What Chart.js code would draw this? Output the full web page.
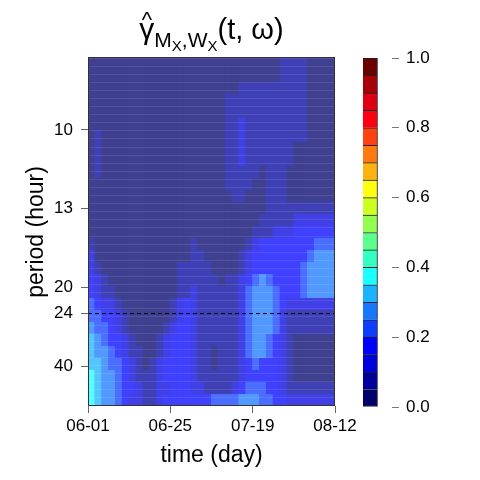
<!DOCTYPE html>
<html>
<head>
<meta charset="utf-8">
<script src="https://cdn.jsdelivr.net/npm/chart.js@4.4.1/dist/chart.umd.min.js"></script>
<style>
  body { margin: 0; background: #fff; }
  #wrap { position: relative; width: 480px; height: 480px; }
  #wrap canvas { position: absolute; left: 0; top: 0; }
</style>
</head>
<body>
<div id="wrap">
  <canvas id="chart" width="480" height="480"></canvas>
  <canvas id="scalebar" width="480" height="480"></canvas>
</div>
<script>
// time axis (days since 06-01)
const dayTicks = [0, 24, 48, 72];
const dayLabels = ["06-01", "06-25", "07-19", "08-12"];

// period axis in hours, drawn on a frequency (1/period) scale
const periodTicks = [10, 13.33, 20, 24, 40];
const periodLabels = ["10", "13", "20", "24", "40"];
const periodTop = 8.14;
const periodBottom = 81.3;
const refPeriod = 24;

// coherence class per cell: digit k means 0.05k .. 0.05(k+1)
// rows run from short period (top) to long period (bottom), 2-day columns
const coherenceRows = [
  "000000000000000000000000000011110000",
  "000000000000000000000000000011110000",
  "000000000000000000000011111111110000",
  "000000000000000000001111111111110000",
  "000000000000000000001111111111110000",
  "000000000000000000001121111111110000",
  "010000000000000000001121111111110000",
  "010000000000000000001121111111000000",
  "010000000000000000001121111111000000",
  "010000000000000000001111101110000000",
  "000000000000000000001111001110000000",
  "000000000000000000000110001110000000",
  "000000000000000000000000001111111111",
  "000000000000000000000000011111222222",
  "000000000000000000000000111222333333",
  "100000000000000100000001233333333444",
  "200000000000000110000012333333334555",
  "210000000000011111000012333333345555",
  "321000000000011111101123454333345555",
  "321100000000011211111124555433345555",
  "432210000000123211111124555432222222",
  "443321000000123211111124555421111111",
  "544321000001233211111124555421111111",
  "654332100012333211111124554321000000",
  "655432110012333211011124554321000000",
  "665443210123333211011123433321000000",
  "765543211123333211111123333321000000",
  "765543321122333221111234443321111111",
  "765543221123333333444455544332222222",
];

// colour key
const levelBreaks = [0, 0.05, 0.1, 0.15, 0.2, 0.25, 0.3, 0.35, 0.4, 0.45, 0.5,
  0.55, 0.6, 0.65, 0.7, 0.75, 0.8, 0.85, 0.9, 0.95, 1.0];
const levelColors = ["#00006b", "#00009e", "#0000dd", "#0000ff", "#0d3dff",
  "#1877ff", "#19b3ff", "#1affff", "#33ffc2", "#5cff8a", "#90ff50", "#ccff22",
  "#ffff10", "#ffb310", "#ff7a10", "#ff4010", "#ff0010", "#dd0010", "#a80008",
  "#6b0000"];

const FONT = '"Liberation Sans", Arial, Helvetica, sans-serif';
Chart.defaults.font.family = FONT;
Chart.defaults.color = "#000";

// the map is shown under a light wash
function washed(hex, a) {
  const n = parseInt(hex.slice(1), 16);
  const mix = (v) => Math.round(v + (255 - v) * a);
  return `rgb(${mix((n >> 16) & 255)},${mix((n >> 8) & 255)},${mix(n & 255)})`;
}

const fTop = 1 / periodTop;
const fBottom = 1 / periodBottom;
const rowStep = (fTop - fBottom) / coherenceRows.length;
const colStep = (dayTicks[dayTicks.length - 1] - dayTicks[0]) / coherenceRows[0].length;

const heatSets = coherenceRows.map((row, r) => {
  const hi = fTop - r * rowStep;
  const lo = hi - rowStep;
  const cells = row.split("").map(Number);
  return {
    type: "bar",
    data: cells.map((k, c) => ({ x: dayTicks[0] + (c + 0.5) * colStep, y: [lo, hi + rowStep * 0.1] })),
    backgroundColor: cells.map((k) => washed(levelColors[k], 0.25)),
    borderWidth: 0,
    grouped: false,
    barPercentage: 1.15,
    categoryPercentage: 1,
    order: 2,
  };
});

const refLine = {
  type: "line",
  data: [
    { x: dayTicks[0], y: 1 / refPeriod },
    { x: dayTicks[dayTicks.length - 1], y: 1 / refPeriod },
  ],
  borderColor: "#000",
  borderWidth: 1,
  borderDash: [4, 3],
  pointRadius: 0,
  order: 0,
};

// title, axis titles and frame
const textPlugin = {
  id: "texts",
  afterDraw(chart) {
    const { ctx, chartArea: a } = chart;
    ctx.save();
    ctx.strokeStyle = "#333";
    ctx.lineWidth = 1;
    ctx.strokeRect(Math.round(a.left) + 0.5, Math.round(a.top) - 0.5,
      Math.round(a.right - a.left) - 1, Math.round(a.bottom - a.top));

    ctx.fillStyle = "#000";
    ctx.textBaseline = "alphabetic";
    const cx = (a.left + a.right) / 2;

    ctx.font = `23px ${FONT}`;
    ctx.textAlign = "center";
    ctx.fillText("time (day)", cx, 462);

    ctx.save();
    ctx.translate(43, (a.top + a.bottom) / 2);
    ctx.rotate(-Math.PI / 2);
    ctx.fillText("period (hour)", 0, 0);
    ctx.restore();

    const parts = [
      { t: "γ", s: 30, dy: 0 },
      { t: "M", s: 21, dy: 8 },
      { t: "X", s: 15, dy: 12 },
      { t: ",", s: 21, dy: 8 },
      { t: "W", s: 21, dy: 8 },
      { t: "X", s: 15, dy: 12 },
      { t: "(t, ω)", s: 29, dy: 0 },
    ];
    let w = 0;
    parts.forEach((p) => {
      ctx.font = `${p.s}px ${FONT}`;
      p.w = ctx.measureText(p.t).width;
      w += p.w;
    });
    let x = cx - w / 2;
    const base = 39;
    ctx.textAlign = "left";
    parts.forEach((p, i) => {
      ctx.font = `${p.s}px ${FONT}`;
      ctx.fillText(p.t, x, base + p.dy);
      if (i === 0) {
        ctx.font = `22px ${FONT}`;
        ctx.textAlign = "center";
        ctx.fillText("^", x + p.w / 2, 27);
        ctx.textAlign = "left";
      }
      x += p.w;
    });
    ctx.restore();
  },
};

new Chart(document.getElementById("chart"), {
  type: "bar",
  data: { datasets: [...heatSets, refLine] },
  options: {
    responsive: false,
    animation: false,
    devicePixelRatio: 1,
    layout: { padding: { left: 0, right: 145, top: 58, bottom: 0 } },
    plugins: { legend: { display: false }, tooltip: { enabled: false } },
    scales: {
      x: {
        type: "linear",
        min: dayTicks[0],
        max: dayTicks[dayTicks.length - 1],
        offset: false,
        afterBuildTicks: (s) => { s.ticks = dayTicks.map((v) => ({ value: v })); },
        ticks: {
          callback: (v, i) => dayLabels[i],
          font: { size: 17 },
          padding: 3,
          maxRotation: 0,
          autoSkip: false,
        },
        grid: { drawOnChartArea: false, tickLength: 7, color: "#666", offset: false },
        border: { display: false },
        afterFit: (s) => { s.height = 74; },
      },
      y: {
        type: "linear",
        position: "left",
        min: fBottom,
        max: fTop,
        afterBuildTicks: (s) => { s.ticks = periodTicks.map((p) => ({ value: 1 / p })); },
        ticks: {
          callback: (v, i) => periodLabels[i],
          font: { size: 17 },
          padding: 8,
          autoSkip: false,
        },
        grid: { drawOnChartArea: false, tickLength: 7, color: "#666" },
        border: { display: false },
        afterFit: (s) => { s.width = 88; },
      },
      wash: {
        type: "linear",
        position: "left",
        min: 0,
        max: 43,
        afterBuildTicks: (s) => {
          s.ticks = [];
          for (let i = 0; i <= 43; i++) s.ticks.push({ value: i });
        },
        ticks: { display: false },
        grid: { color: "rgba(255,255,255,0.1)", z: 1, drawTicks: false },
        border: { display: false },
        afterFit: (s) => { s.width = 0; },
      },
    },
  },
  plugins: [textPlugin],
});

// colour key on its own canvas
new Chart(document.getElementById("scalebar"), {
  type: "bar",
  data: {
    labels: ["key"],
    datasets: levelColors.map((col, k) => ({
      data: [[levelBreaks[k], levelBreaks[k + 1]]],
      backgroundColor: col,
      borderColor: "#222",
      borderWidth: { top: 1, left: 1, right: 1, bottom: k === 0 ? 1 : 0 },
      borderSkipped: false,
      grouped: false,
      barPercentage: 1,
      categoryPercentage: 1,
    })),
  },
  options: {
    responsive: false,
    animation: false,
    devicePixelRatio: 1,
    layout: { padding: { left: 363, right: 28, top: 58, bottom: 73 } },
    plugins: { legend: { display: false }, tooltip: { enabled: false } },
    scales: {
      x: { display: false, offset: false },
      y: {
        position: "right",
        min: 0,
        max: 1,
        ticks: { stepSize: 0.2, callback: (v) => v.toFixed(1), font: { size: 17 }, padding: 7 },
        grid: { drawOnChartArea: false, tickLength: 7, color: "#777" },
        border: { display: false },
        afterFit: (s) => { s.width = 60; },
      },
    },
  },
});
</script>
</body>
</html>
